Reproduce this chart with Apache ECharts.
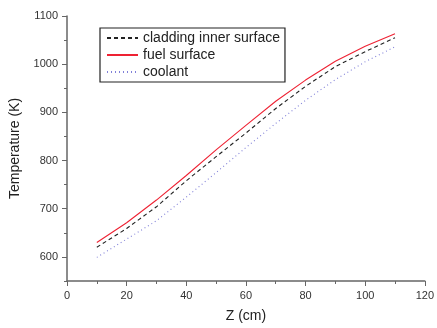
<!DOCTYPE html>
<html>
<head>
<meta charset="utf-8">
<script src="https://cdn.jsdelivr.net/npm/echarts@6/dist/echarts.min.js"></script>
<style>html,body{margin:0;padding:0;background:#fff;}#c{width:437px;height:328px;}</style>
</head>
<body>
<div id="c"></div>
<script>
var zValues = [10, 20, 30, 40, 50, 60, 70, 80, 90, 100, 110];
var cladding = [620, 659, 704, 758, 808, 857, 908, 954, 995, 1026, 1055];
var fuel = [630, 671, 718, 769, 822, 873, 923, 967, 1006, 1037, 1063];
var coolant = [599, 637, 675, 724, 775, 827, 877, 925, 968, 1005, 1036];
var yTickLabels = [600, 700, 800, 900, 1000, 1100];
var seriesNames = ['cladding inner surface', 'fuel surface', 'coolant'];

function pairs(vals) { return zValues.map(function (z, i) { return [z, vals[i]]; }); }
function plain(v) { return String(v); }

var font = 'Liberation Sans, Arial, sans-serif';
var chart = echarts.init(document.getElementById('c'), null, { renderer: 'canvas' });
chart.setOption({
  animation: false,
  backgroundColor: '#fff',
  grid: { left: 67, right: 10, top: 16, bottom: 42, containLabel: false },
  legend: {
    orient: 'vertical', left: 100, top: 28,
    padding: [3, 5, 3, 6], itemGap: 3, itemWidth: 31, itemHeight: 14,
    borderColor: '#222', borderWidth: 1.2,
    itemStyle: { opacity: 0 },
    textStyle: { fontFamily: font, fontSize: 14, color: '#222' },
    data: seriesNames
  },
  xAxis: {
    type: 'value', min: 0, max: 120, interval: 20,
    name: 'Z (cm)', nameLocation: 'middle', nameGap: 28,
    nameTextStyle: { fontFamily: font, fontSize: 14, color: '#222' },
    axisLine: { lineStyle: { color: '#666', width: 1.5 } },
    axisTick: { length: 5, lineStyle: { color: '#666', width: 1 } },
    minorTick: { show: true, splitNumber: 2, length: 3, lineStyle: { color: '#666', width: 1 } },
    axisLabel: { fontFamily: font, fontSize: 11, color: '#333', margin: 9, formatter: plain },
    splitLine: { show: false }
  },
  yAxis: [{
    type: 'value', min: 550, max: 1100,
    name: 'Temperature (K)', nameLocation: 'middle', nameGap: 39,
    nameTextStyle: { fontFamily: font, fontSize: 14, color: '#222' },
    axisLine: { show: true, lineStyle: { color: '#666', width: 1.5 } },
    axisTick: { show: true, length: 5, customValues: yTickLabels, lineStyle: { color: '#666', width: 1 } },
    axisLabel: { fontFamily: font, fontSize: 11, color: '#333', margin: 9, customValues: yTickLabels, formatter: plain },
    splitLine: { show: false }
  }, {
    type: 'value', min: 550, max: 1100, interval: 50, position: 'left',
    axisLine: { show: false },
    axisTick: { show: true, length: 3, lineStyle: { color: '#666', width: 1 } },
    axisLabel: { show: false },
    splitLine: { show: false }
  }],
  series: [
    { name: seriesNames[0], type: 'line', data: pairs(cladding), symbol: 'none', color: '#222',
      lineStyle: { color: '#222', width: 1.1, type: [4, 3] }, z: 3 },
    { name: seriesNames[1], type: 'line', data: pairs(fuel), symbol: 'none', color: '#ee2233',
      lineStyle: { color: '#ee2233', width: 1.1, type: 'solid' }, z: 2 },
    { name: seriesNames[2], type: 'line', data: pairs(coolant), symbol: 'none', color: '#8080d8',
      lineStyle: { color: '#8080d8', width: 1.1, type: [1, 3] }, z: 1 }
  ]
});
</script>
</body>
</html>
